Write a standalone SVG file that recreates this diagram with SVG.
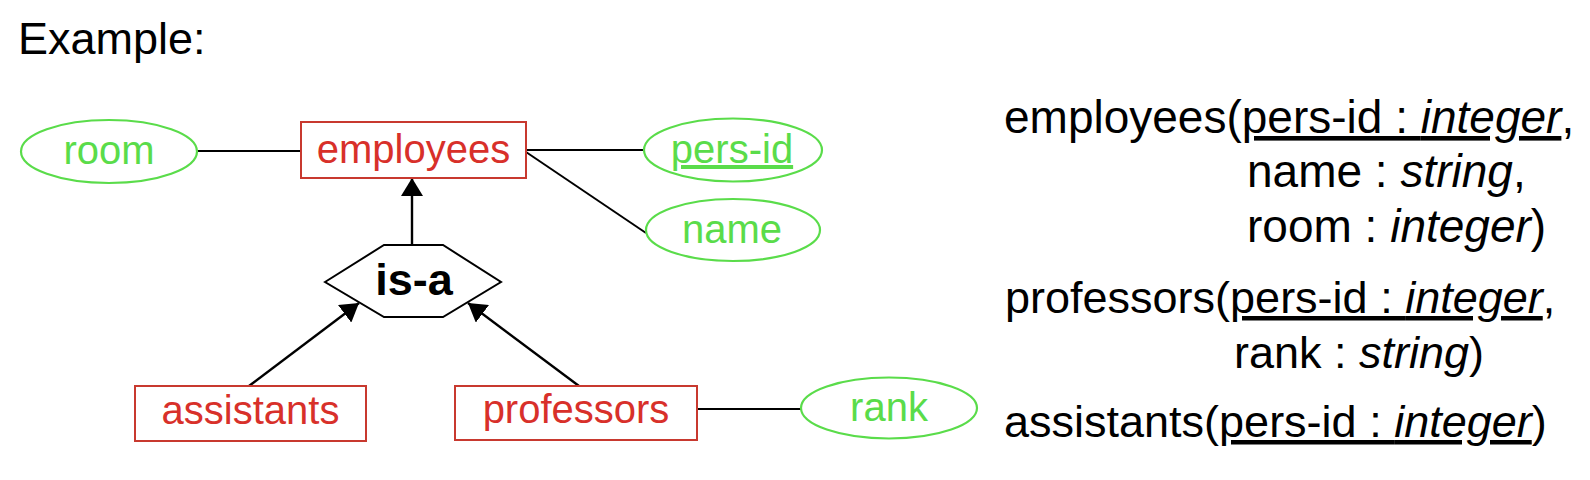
<svg xmlns="http://www.w3.org/2000/svg" width="1590" height="480" viewBox="0 0 1590 480">
  <style>
    .ent rect { fill: #ffffff; stroke: #C8392F; stroke-width: 2; }
    .ent text { fill: #D8302A; font-family: "Liberation Sans", Arial, sans-serif; font-size: 40px; text-anchor: middle; }
    .att ellipse { fill: #ffffff; stroke: #5ADC4A; stroke-width: 2.2; }
    .att text { fill: #5ADC4A; font-family: "Liberation Sans", Arial, sans-serif; font-size: 40px; text-anchor: middle; }
    .rel polygon { fill: #ffffff; stroke: #000000; stroke-width: 2; }
    .rel text { fill: #000000; font-family: "Liberation Sans", Arial, sans-serif; font-size: 45px; font-weight: bold; text-anchor: middle; }
    .conn line { stroke: #000000; stroke-width: 2; }
    .conn line.arrow { stroke-width: 2.4; marker-end: url(#head); }
    .schema { fill: #000000; font-family: "Liberation Sans", Arial, sans-serif; font-size: 45px; }
    .big { font-size: 46px; }
    .it { font-style: italic; }
    .ul { text-decoration: underline; }
  </style>
  <defs>
    <marker id="head" markerUnits="userSpaceOnUse" viewBox="0 0 18 22" refX="18" refY="11" markerWidth="18" markerHeight="22" orient="auto">
      <path d="M0,0 L18,11 L0,22 z" fill="#000000"/>
    </marker>
  </defs>

  <text id="title" class="schema" x="18" y="54">Example:</text>

  <g id="connectors" class="conn">
    <line x1="197" y1="151" x2="301" y2="151"/>
    <line x1="526" y1="150" x2="644" y2="150"/>
    <line x1="526" y1="152" x2="646" y2="233"/>
    <line x1="697" y1="409" x2="801" y2="409"/>
    <line class="arrow" x1="412" y1="245" x2="412" y2="178"/>
    <line class="arrow" x1="249" y1="386" x2="359" y2="303"/>
    <line class="arrow" x1="579" y1="386" x2="468" y2="303"/>
  </g>

  <g id="room" class="att">
    <ellipse cx="109" cy="151.5" rx="88" ry="31.5"/>
    <text x="109" y="164">room</text>
  </g>
  <g id="pers-id" class="att">
    <ellipse cx="733" cy="150" rx="89" ry="31.5"/>
    <text x="732" y="163" class="ul">pers-id</text>
  </g>
  <g id="name" class="att">
    <ellipse cx="733" cy="230" rx="87" ry="31"/>
    <text x="732" y="243">name</text>
  </g>
  <g id="rank" class="att">
    <ellipse cx="889" cy="408" rx="88" ry="30.5"/>
    <text x="889" y="421">rank</text>
  </g>

  <g id="employees" class="ent">
    <rect x="301" y="122" width="225" height="56"/>
    <text x="413.5" y="163">employees</text>
  </g>
  <g id="assistants" class="ent">
    <rect x="135" y="386" width="231" height="55"/>
    <text x="250.5" y="424">assistants</text>
  </g>
  <g id="professors" class="ent">
    <rect x="455" y="386" width="242" height="54"/>
    <text x="576" y="423">professors</text>
  </g>

  <g id="is-a" class="rel">
    <polygon points="325,282 384,245 443,245 501,282 443,317 384,317"/>
    <text x="414" y="295">is-a</text>
  </g>

  <g id="schemas">
    <text class="schema big" x="1004" y="133">employees(<tspan class="ul">pers-id : <tspan class="it">integer</tspan></tspan>,</text>
    <text class="schema big" x="1247" y="187">name : <tspan class="it">string</tspan>,</text>
    <text class="schema big" x="1247" y="242">room : <tspan class="it">integer</tspan>)</text>
    <text class="schema" x="1005" y="313">professors(<tspan class="ul">pers-id : <tspan class="it">integer</tspan></tspan>,</text>
    <text class="schema" x="1234" y="368">rank : <tspan class="it">string</tspan>)</text>
    <text class="schema" x="1004" y="437">assistants(<tspan class="ul">pers-id : <tspan class="it">integer</tspan></tspan>)</text>
  </g>
</svg>
